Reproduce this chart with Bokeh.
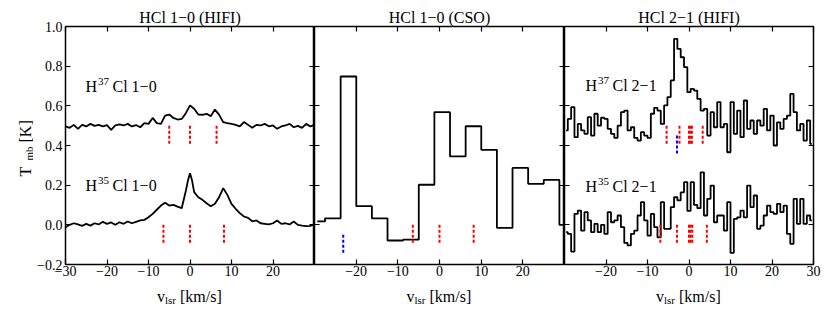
import math
from bokeh.plotting import figure
from bokeh.layouts import row, column
from bokeh.models import Range1d, LinearAxis, FixedTicker, Label
from bokeh.embed import file_html
from bokeh.resources import INLINE

FONT = "Liberation Serif"

# ---------------- data ----------------
vel_h37cl_10 = [-30, -29, -28, -27, -26, -25, -24, -23, -22, -21, -20, -19, -18, -17, -16,
                -15, -14, -13, -12, -11, -10, -9, -8, -7, -6, -5, -4, -3, -2, -1, 0,
                1, 2, 3, 4, 5, 6, 7, 8, 9, 10, 11, 12, 13, 14, 15, 16, 17, 18, 19, 20,
                21, 22, 23, 24, 25, 26, 27, 28, 29, 30]
t_h37cl_10 = [0.496, 0.489, 0.504, 0.484, 0.504, 0.496, 0.509, 0.499, 0.504, 0.496, 0.503,
              0.479, 0.501, 0.507, 0.501, 0.509, 0.496, 0.503, 0.492, 0.513, 0.509, 0.539,
              0.513, 0.509, 0.551, 0.556, 0.539, 0.531, 0.534, 0.563, 0.602, 0.585, 0.556,
              0.555, 0.560, 0.548, 0.581, 0.556, 0.518, 0.513, 0.509, 0.504, 0.496, 0.518,
              0.504, 0.489, 0.504, 0.501, 0.509, 0.497, 0.501, 0.484, 0.496, 0.501, 0.509,
              0.492, 0.499, 0.489, 0.509, 0.496, 0.504]

vel_h35cl_10 = [-30, -29, -28, -27, -26, -25, -24, -23, -22, -21, -20, -19, -18, -17, -16,
                -15, -14, -13, -12, -11, -10, -9, -8, -7, -6, -5, -4, -3, -2, -1, -0.5, 0,
                0.5, 1, 2, 3, 4, 5, 6, 7, 8, 9, 10, 11, 12, 13, 14, 15, 16, 17, 18, 19, 20,
                21, 22, 23, 24, 25, 26, 27, 28, 29, 30]
t_h35cl_10 = [-0.012, 0.000, 0.008, 0.002, -0.005, 0.005, -0.004, 0.008, 0.002, 0.015, 0.005,
              0.012, 0.000, 0.013, 0.005, 0.017, 0.008, 0.015, 0.022, 0.025, 0.038, 0.055,
              0.076, 0.097, 0.111, 0.097, 0.101, 0.092, 0.084, 0.172, 0.223, 0.260, 0.223,
              0.165, 0.139, 0.126, 0.109, 0.094, 0.106, 0.139, 0.185, 0.151, 0.106, 0.081,
              0.059, 0.042, 0.035, 0.018, 0.022, 0.008, 0.005, 0.002, 0.008, 0.022, 0.005,
              0.008, 0.002, 0.017, 0.000, -0.004, -0.007, -0.005, 0.002]

vel_cso = [-29.35, -25.6, -21.85, -18.1, -14.35, -10.6, -6.85, -3.1, 0.65, 4.4, 8.15,
           11.9, 15.65, 19.4, 23.15, 26.9, 30.65]
t_cso = [0.017, 0.033, 0.748, 0.094, 0.033, -0.079, -0.075, 0.202, 0.568, 0.345, 0.497,
         0.378, -0.015, 0.287, 0.207, 0.227, 0.000]

vel_21 = [-29.6, -28.8, -28.0, -27.2, -26.4, -25.6, -24.8, -24.0, -23.2, -22.4, -21.6, -20.8,
          -20.0, -19.2, -18.4, -17.6, -16.8, -16.0, -15.2, -14.4, -13.6, -12.8, -12.0, -11.2,
          -10.4, -9.6, -8.8, -8.0, -7.2, -6.4, -5.6, -4.8, -4.0, -3.2, -2.4, -1.6, -0.8, 0.0,
          0.8, 1.6, 2.4, 3.2, 4.0, 4.8, 5.6, 6.4, 7.2, 8.0, 8.8, 9.6, 10.4, 11.2, 12.0, 12.8,
          13.6, 14.4, 15.2, 16.0, 16.8, 17.6, 18.4, 19.2, 20.0, 20.8, 21.6, 22.4, 23.2, 24.0,
          24.8, 25.6, 26.4, 27.2, 28.0, 28.8, 29.6]
t_h37cl_21 = [0.476, 0.534, 0.593, 0.442, 0.509, 0.476, 0.459, 0.543, 0.450, 0.560, 0.500,
              0.540, 0.534, 0.484, 0.459, 0.438, 0.500, 0.568, 0.576, 0.476, 0.492, 0.438,
              0.425, 0.467, 0.450, 0.438, 0.560, 0.590, 0.576, 0.509, 0.602, 0.644, 0.728,
              0.938, 0.887, 0.845, 0.795, 0.669, 0.686, 0.677, 0.635, 0.576, 0.585, 0.450,
              0.568, 0.492, 0.619, 0.492, 0.509, 0.366, 0.619, 0.459, 0.576, 0.442, 0.627,
              0.484, 0.526, 0.459, 0.526, 0.500, 0.585, 0.476, 0.551, 0.400, 0.517, 0.484,
              0.534, 0.551, 0.660, 0.568, 0.476, 0.509, 0.425, 0.526, 0.408]
t_h35cl_21 = [-0.037, -0.046, -0.135, 0.055, 0.072, -0.029, 0.064, 0.022, -0.037, 0.005,
              -0.037, 0.000, -0.046, 0.064, 0.013, 0.022, 0.047, -0.012, -0.091, -0.104,
              -0.046, -0.029, 0.047, 0.114, 0.022, -0.054, 0.055, -0.012, -0.063, 0.114,
              -0.020, -0.020, 0.089, 0.139, 0.123, 0.164, 0.215, 0.070, 0.215, 0.101, 0.084,
              0.265, 0.047, 0.131, 0.198, 0.013, 0.047, 0.047, -0.029, 0.114, -0.141, 0.030,
              0.038, 0.072, 0.038, 0.198, 0.089, 0.148, -0.020, -0.004, 0.047, 0.097, 0.064,
              0.055, 0.106, 0.064, 0.097, -0.046, -0.096, 0.131, 0.005, 0.131, 0.005, 0.047,
              0.022]

# hyperfine component velocities (red) and other-line markers (blue)
hfs_h35cl_10 = [-6.4, 0.0, 8.2]
hfs_h37cl_10 = [-5.0, 0.0, 6.4]
hfs_h35cl_21 = [-6.9, -2.9, 0.0, 0.4, 0.8, 4.3]
hfs_h37cl_21 = [-5.4, -2.3, 0.0, 0.35, 0.7, 3.3]
blue_cso = [-23.1]
blue_21 = [-2.9]

x_ticks = [-30, -20, -10, 0, 10, 20, 30]
x_tick_labels = ["−30", "−20", "−10", "0", "10", "20", "30"]
y_ticks = [-0.2, 0.0, 0.2, 0.4, 0.6, 0.8, 1.0]
y_tick_labels = ["−0.2", "0.0", "0.2", "0.4", "0.6", "0.8", "1.0"]
titles = ["HCl 1−0 (HIFI)", "HCl 1−0 (CSO)", "HCl 2−1 (HIFI)"]

# ---------------- layout helpers ----------------
FH = 238
TOP = 26
BOT = 20
YLAB_W = 33


def style_axis(ax, ticks, labels=None, size="14px", standoff=3):
    ax.ticker = FixedTicker(ticks=ticks)
    ax.major_tick_in = 5
    ax.major_tick_out = 0
    ax.minor_tick_in = 0
    ax.minor_tick_out = 0
    ax.axis_line_color = None
    ax.major_tick_line_color = "black"
    ax.major_tick_line_width = 1.2
    if labels is not None:
        ax.major_label_overrides = dict(zip(ticks, labels))
        ax.major_label_text_font = FONT
        ax.major_label_text_font_size = size
        ax.major_label_text_color = "black"
        ax.major_label_standoff = standoff
    else:
        ax.major_label_text_font_size = "0px"
        ax.major_label_text_color = None
        ax.major_label_standoff = 0


def put(p, sx, sy, text, size, align="left", angle=0.0):
    p.add_layout(Label(x=sx, y=sy, x_units="screen", y_units="screen", text=text,
                       text_font=FONT, text_font_size=f"{size}px", text_align=align,
                       text_baseline="alphabetic", text_color="black", angle=angle))


def blank(w, h):
    f = figure(width=w, height=h, x_range=Range1d(0, 1), y_range=Range1d(0, 1),
               output_backend="svg", toolbar_location=None, x_axis_location=None,
               y_axis_location=None, min_border=0, min_border_left=0, min_border_right=0,
               min_border_top=0, min_border_bottom=0)
    for g in f.grid:
        g.visible = False
    f.outline_line_color = None
    f.background_fill_color = "white"
    f.border_fill_color = "white"
    return f


def panel(fw, bl, br, shown_x, show_y, title):
    p = figure(frame_width=fw, frame_height=FH, x_range=Range1d(-30, 30),
               y_range=Range1d(-0.2, 1.0), output_backend="svg", toolbar_location=None,
               x_axis_location=None, y_axis_location=None,
               min_border_left=bl, min_border_right=br, min_border_top=TOP,
               min_border_bottom=BOT)
    for g in p.grid:
        g.visible = False
    p.outline_line_color = "black"
    p.outline_line_width = 1.5
    p.background_fill_color = "white"
    p.border_fill_color = "white"

    p.title.text = title
    p.title.align = "center"
    p.title.text_font = FONT
    p.title.text_font_size = "16px"
    p.title.text_font_style = "normal"
    p.title.text_color = "black"
    p.title.standoff = 1
    p.title.offset = 0

    xt = [t for t in x_ticks if t in shown_x]
    xl = [l for t, l in zip(x_ticks, x_tick_labels) if t in shown_x]
    below = LinearAxis()
    style_axis(below, xt, xl, "14px", 1)
    p.add_layout(below, "below")
    above = LinearAxis()
    style_axis(above, xt)
    p.add_layout(above, "above")
    left = LinearAxis()
    style_axis(left, y_ticks, y_tick_labels if show_y else None, "14px", 3)
    p.add_layout(left, "left")
    right = LinearAxis()
    style_axis(right, y_ticks)
    p.add_layout(right, "right")
    return p


def iso_label(p, sx, sy, iso, rest):
    put(p, sx, sy, "H", 16)
    put(p, sx + 12.5, sy + 5, iso, 11)
    put(p, sx + 27, sy, rest, 16)


def markers(p, xs, y0, y1, color):
    p.segment(x0=xs, x1=xs, y0=[y0] * len(xs), y1=[y1] * len(xs), line_color=color,
              line_width=2, line_dash="3 2")


# ---------------- panel 1: HCl 1-0 HIFI ----------------
p1 = panel(249, 65 - YLAB_W, 0, [-30, -20, -10, 0, 10, 20], True, titles[0])
p1.line(vel_h37cl_10, t_h37cl_10, line_color="black", line_width=1.8)
p1.line(vel_h35cl_10, t_h35cl_10, line_color="black", line_width=1.8)
markers(p1, hfs_h37cl_10, 0.5, 0.4, "red")
markers(p1, hfs_h35cl_10, 0.0, -0.1, "red")
iso_label(p1, 20, 178, "37", "Cl 1−0")
iso_label(p1, 20, 79, "35", "Cl 1−0")

# ---------------- panel 2: HCl 1-0 CSO ----------------
p2 = panel(250, 0, 0, [-20, -10, 0, 10, 20], False, titles[1])
p2.step(vel_cso, t_cso, mode="center", line_color="black", line_width=1.8)
markers(p2, hfs_h35cl_10, 0.0, -0.1, "red")
markers(p2, blue_cso, -0.05, -0.15, "blue")

# ---------------- panel 3: HCl 2-1 HIFI ----------------
p3 = panel(249, 0, 12, [-20, -10, 0, 10, 20, 30], False, titles[2])
p3.step(vel_21, t_h37cl_21, mode="center", line_color="black", line_width=1.8)
p3.step(vel_21, t_h35cl_21, mode="center", line_color="black", line_width=1.8)
markers(p3, hfs_h37cl_21, 0.5, 0.4, "red")
markers(p3, hfs_h35cl_21, 0.0, -0.1, "red")
markers(p3, blue_21, 0.45, 0.35, "blue")
iso_label(p3, 21, 179, "37", "Cl 2−1")
iso_label(p3, 21, 78, "35", "Cl 2−1")

# ---------------- axis-label strips ----------------
row_h = TOP + FH + BOT
ylab = blank(YLAB_W, row_h)
put(ylab, 25, row_h - 196, "T", 16, angle=math.pi / 2)
put(ylab, 28, row_h - 180, "mb", 11, angle=math.pi / 2)
put(ylab, 25, row_h - 162, "[K]", 16, angle=math.pi / 2)

total_w = YLAB_W + (65 - YLAB_W + 249) + 250 + (249 + 12)
XLAB_H = 24
xlab = blank(total_w, XLAB_H)
for c in [189.5, 439.0, 688.5]:
    put(xlab, c - 33, 12, "v", 16)
    put(xlab, c - 25, 9, "lsr", 11)
    put(xlab, c - 10, 12, "[km/s]", 16)

layout = column(row(ylab, p1, p2, p3), xlab)
open("out.html", "w").write(file_html(layout, INLINE))
